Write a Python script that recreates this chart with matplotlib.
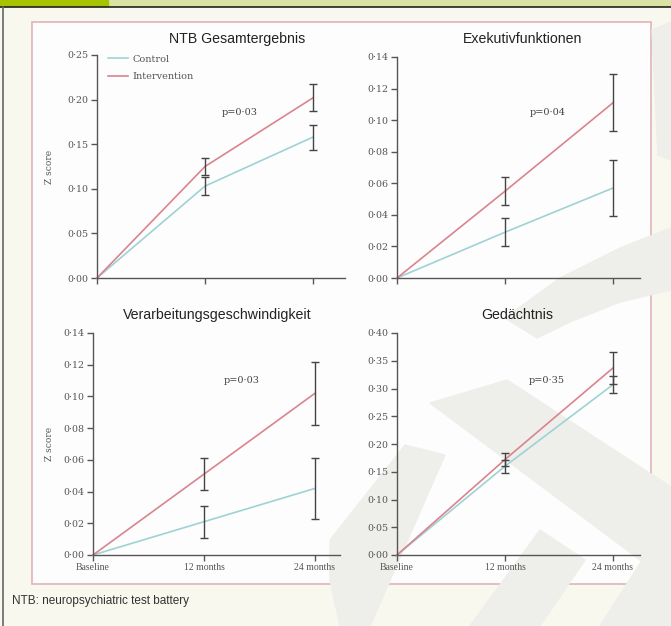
import numpy as np
import matplotlib
matplotlib.use("Agg")
from matplotlib import pyplot as plt
from matplotlib.patches import Rectangle, Polygon
from matplotlib.ticker import FuncFormatter

W, H = 671, 626

months = ["Baseline", "12 months", "24 months"]
x = [0, 1, 2]

ntb_control = [0, 0.103, 0.158]
ntb_control_err = [0, 0.010, 0.014]
ntb_interv = [0, 0.125, 0.202]
ntb_interv_err = [0, 0.010, 0.015]

exe_control = [0, 0.029, 0.057]
exe_control_err = [0, 0.009, 0.018]
exe_interv = [0, 0.055, 0.111]
exe_interv_err = [0, 0.009, 0.018]

ver_control = [0, 0.021, 0.042]
ver_control_err = [0, 0.010, 0.019]
ver_interv = [0, 0.051, 0.102]
ver_interv_err = [0, 0.010, 0.020]

ged_control = [0, 0.160, 0.307]
ged_control_err = [0, 0.012, 0.015]
ged_interv = [0, 0.172, 0.337]
ged_interv_err = [0, 0.011, 0.029]

titles = ["NTB Gesamtergebnis", "Exekutivfunktionen",
          "Verarbeitungsgeschwindigkeit", "Gedächtnis"]
p_values = ["p=0·03", "p=0·04", "p=0·03", "p=0·35"]

c_control = "#9dd3d4"
c_interv = "#d9848f"
c_err = "#444444"
serif = "Liberation Serif"
wide_serif = "DejaVu Serif"
sans = "Liberation Sans"


def fx(px):
    return px / W


def fy(py):
    return 1 - py / H


fig = plt.figure(figsize=(W / 100, H / 100), dpi=100, facecolor="#f8f8ef")

# header bar and frame
fig.patches.append(Rectangle((0, fy(6)), 1, 6 / H, transform=fig.transFigure,
                             color="#dbe3a4", zorder=0))
fig.patches.append(Rectangle((0, fy(6)), fx(108), 6 / H, transform=fig.transFigure,
                             color="#a6c200", zorder=0))
fig.lines.append(plt.Line2D([0, 1], [fy(7), fy(7)], transform=fig.transFigure,
                            color="#222222", lw=1.2))
fig.lines.append(plt.Line2D([fx(3), fx(3)], [fy(7), 0], transform=fig.transFigure,
                            color="#666666", lw=1.2))

# white inner box
fig.patches.append(Rectangle((fx(32), fy(584)), fx(651) - fx(32), fy(22) - fy(584),
                             transform=fig.transFigure, facecolor="#fefdfd",
                             edgecolor="#e2b3ba", lw=1.2, zorder=0.4))

# faint watermark shapes
wm = "#eeeeeb"
for pts in [
    [(430, 403), (507, 380), (671, 487), (671, 583)],
    [(505, 318), (560, 278), (620, 248), (671, 228), (671, 290),
     (620, 302), (570, 322), (537, 338)],
    [(330, 580), (330, 540), (405, 445), (445, 455), (370, 626), (340, 626)],
    [(470, 626), (540, 530), (585, 560), (540, 626)],
    [(600, 626), (671, 515), (671, 626)],
    [(652, 30), (671, 22), (671, 160), (658, 155)],
]:
    fig.patches.append(Polygon([(fx(a), fy(b)) for a, b in pts], closed=True,
                               transform=fig.transFigure, color=wm, zorder=0.5))

panels = [
    dict(px=(97, 345, 55, 278), ymax=0.25, step=0.05,
         c=(ntb_control, ntb_control_err), i=(ntb_interv, ntb_interv_err),
         p=(1.32, 0.186), t=(237, 39), xl=False, ylab=True),
    dict(px=(397, 640, 57, 278), ymax=0.14, step=0.02,
         c=(exe_control, exe_control_err), i=(exe_interv, exe_interv_err),
         p=(1.40, 0.105), t=(523, 39), xl=False, ylab=False),
    dict(px=(93, 340, 333, 555), ymax=0.14, step=0.02,
         c=(ver_control, ver_control_err), i=(ver_interv, ver_interv_err),
         p=(1.34, 0.110), t=(217, 315), xl=True, ylab=True),
    dict(px=(397, 640, 333, 555), ymax=0.40, step=0.05,
         c=(ged_control, ged_control_err), i=(ged_interv, ged_interv_err),
         p=(1.39, 0.315), t=(517, 315), xl=True, ylab=False),
]

fmt = FuncFormatter(lambda v, pos: f"{v:.2f}".replace(".", "·"))

for k, pn in enumerate(panels):
    l, r, t, b = pn["px"]
    ax = fig.add_axes([fx(l), fy(b), fx(r) - fx(l), fy(t) - fy(b)])
    ax.set_zorder(2)
    ax.patch.set_alpha(0)
    unit = 108 if k != 2 else 111
    ax.set_xlim(0, (r - l) / unit)
    ax.set_ylim(0, pn["ymax"])

    cv, ce = pn["c"]
    iv, ie = pn["i"]
    ax.plot(x, cv, color=c_control, lw=1.2, label="Control", clip_on=False)
    ax.plot(x, iv, color=c_interv, lw=1.2, label="Intervention", clip_on=False)
    ax.errorbar(x[1:], cv[1:], yerr=ce[1:], fmt="none", ecolor=c_err,
                elinewidth=1, capsize=3, capthick=1, clip_on=False)
    ax.errorbar(x[1:], iv[1:], yerr=ie[1:], fmt="none", ecolor=c_err,
                elinewidth=1, capsize=3, capthick=1, clip_on=False)

    ax.text(pn["p"][0], pn["p"][1], p_values[k], fontsize=7,
            family=wide_serif, color="#444444", ha="center", va="center")

    ax.set_yticks(np.arange(0, pn["ymax"] + 1e-9, pn["step"]))
    ax.yaxis.set_major_formatter(fmt)
    ax.set_xticks(x)
    if pn["xl"]:
        ax.set_xticklabels(months)
    else:
        ax.set_xticklabels([])
    ax.tick_params(direction="out", length=4, width=1, color="#555555",
                   labelcolor="#555555", pad=2)
    for lab in ax.get_xticklabels():
        lab.set_family(serif)
        lab.set_fontsize(7)
    for lab in ax.get_yticklabels():
        lab.set_family(wide_serif)
        lab.set_fontsize(6.8)
    for s in ["top", "right"]:
        ax.spines[s].set_visible(False)
    for s in ["left", "bottom"]:
        ax.spines[s].set_color("#555555")
        ax.spines[s].set_linewidth(1)

    fig.text(fx(pn["t"][0]), fy(pn["t"][1]), titles[k], family=sans,
             fontsize=10.2, color="#222222", ha="center", va="center")
    if pn["ylab"]:
        fig.text(fx(49), fy((t + b) / 2), "Z score", family=wide_serif,
                 fontsize=6.5, color="#555555", rotation=90,
                 ha="center", va="center")
    if k == 0:
        ax.legend(loc="upper left", bbox_to_anchor=(0.01, 1.04), frameon=False,
                  handlelength=2.0, handletextpad=0.5, labelspacing=0.85,
                  prop={"family": wide_serif, "size": 7}, labelcolor="#555555")

fig.text(fx(12), fy(601), "NTB: neuropsychiatric test battery", family=sans,
         fontsize=8.5, color="#333333", ha="left", va="center")

fig.savefig("out.png", dpi=100, facecolor=fig.get_facecolor())
